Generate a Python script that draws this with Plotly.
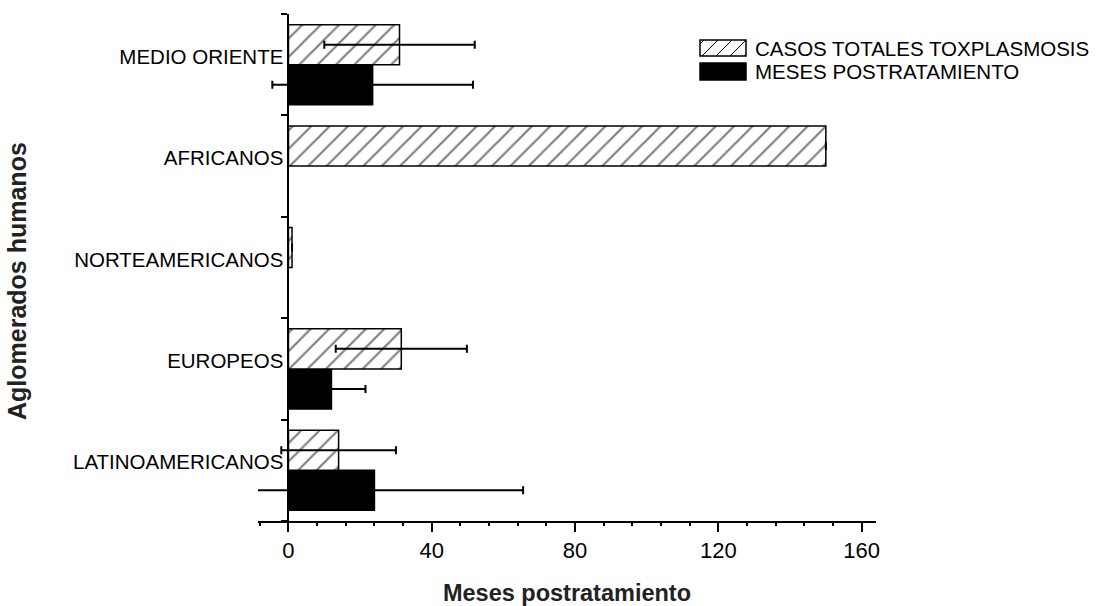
import plotly.graph_objects as go

# ---- data ----
categories = ["MEDIO ORIENTE", "AFRICANOS", "NORTEAMERICANOS", "EUROPEOS", "LATINOAMERICANOS"]
casos_totales = [31, 150, 1, 31.5, 14]
casos_err = [21, 0, 0, 18.3, 16]
meses_post = [23.5, None, None, 12, 24]
meses_err = [28, 0, 0, 9.5, 41.5]
x_ticks = [0, 40, 80, 120, 160]
legend_names = ["CASOS TOTALES TOXPLASMOSIS", "MESES POSTRATAMIENTO"]

# ---- layout geometry ----
W, H = 1109, 606
ML, MR, MT, MB = 258, 233, 14, 85
X_RANGE = [-8.5, 164]
PW, PH = W - ML - MR, H - MT - MB
FONT = "Arial, Liberation Sans, sans-serif"

fig = go.Figure()

fig.add_trace(go.Bar(
    y=categories, x=meses_post, orientation="h", name=legend_names[1],
    marker=dict(color="black", line=dict(color="black", width=1.5)),
    error_x=dict(type="data", array=meses_err, visible=True,
                 color="black", thickness=2, width=4),
    showlegend=False,
))
fig.add_trace(go.Bar(
    y=categories, x=casos_totales, orientation="h", name=legend_names[0],
    marker=dict(color="white", line=dict(color="black", width=1.5),
                pattern=dict(shape="/", fgcolor="black", bgcolor="white",
                             size=13, solidity=0.17)),
    error_x=dict(type="data", array=casos_err, visible=True,
                 color="black", thickness=2, width=4),
    showlegend=False,
))

ypos = (0 - X_RANGE[0]) / (X_RANGE[1] - X_RANGE[0])

fig.update_layout(
    width=W, height=H,
    margin=dict(l=ML, r=MR, t=MT, b=MB, autoexpand=False),
    paper_bgcolor="white", plot_bgcolor="white",
    barmode="group", bargap=0.21, bargroupgap=0,
    font=dict(family=FONT, color="black"),
    xaxis=dict(
        range=X_RANGE, tickvals=x_ticks, ticktext=[str(v) for v in x_ticks],
        showgrid=False, zeroline=False,
        showline=True, linecolor="black", linewidth=2,
        ticks="outside", ticklen=9, tickwidth=2, tickcolor="black",
        tickfont=dict(size=22, family=FONT, color="black"),
        minor=dict(dtick=8, tick0=0, ticks="outside", ticklen=3,
                   tickwidth=1.5, tickcolor="black", showgrid=False),
        title=dict(text="<b>Meses postratamiento</b>", standoff=27,
                   font=dict(size=23.5, family=FONT, color="#222")),
        automargin=False,
    ),
    yaxis=dict(
        type="category", categoryorder="array", categoryarray=categories[::-1],
        range=[-0.5, len(categories) - 0.5],
        anchor="free", position=ypos,
        showgrid=False, zeroline=False,
        showline=True, linecolor="black", linewidth=2,
        ticks="outside", tickson="boundaries", ticklen=6, tickwidth=2,
        tickcolor="black", ticklabelshift=-8,
        tickfont=dict(size=20.5, family=FONT, color="black"),
        automargin=False,
    ),
)

# ---- pixel -> paper helpers ----
def px_x(p):
    return (p - ML) / PW

def px_y(p):
    return (H - MB - p) / PH

# y axis title (placed like the reference)
fig.add_annotation(xref="paper", yref="paper", x=px_x(17), y=px_y(281),
                   xanchor="center", yanchor="middle", showarrow=False,
                   textangle=-90, text="<b>Aglomerados humanos</b>",
                   font=dict(size=25, family=FONT, color="#222"))

# ---- custom legend (wide swatches like the reference) ----
sw_x0, sw_x1 = 700, 746
rows = [(40, 56), (63, 80)]

y0, y1 = rows[0]
fig.add_shape(type="rect", xref="paper", yref="paper",
              x0=px_x(sw_x0), x1=px_x(sw_x1), y0=px_y(y1), y1=px_y(y0),
              line=dict(color="black", width=1.5), fillcolor="white")
h = y1 - y0
step = 14
start = sw_x0 - h + 4
while start < sw_x1:
    ax, ay, bx, by = start, y1, start + h, y0
    if ax < sw_x0:
        ay = ay - (sw_x0 - ax)
        ax = sw_x0
    if bx > sw_x1:
        by = by + (bx - sw_x1)
        bx = sw_x1
    if bx > ax:
        fig.add_shape(type="line", xref="paper", yref="paper",
                      x0=px_x(ax), y0=px_y(ay), x1=px_x(bx), y1=px_y(by),
                      line=dict(color="black", width=1))
    start += step

y0, y1 = rows[1]
fig.add_shape(type="rect", xref="paper", yref="paper",
              x0=px_x(sw_x0), x1=px_x(sw_x1), y0=px_y(y1), y1=px_y(y0),
              line=dict(color="black", width=1.5), fillcolor="black")

for (y0, y1), name in zip(rows, legend_names):
    fig.add_annotation(xref="paper", yref="paper",
                       x=px_x(sw_x1 + 7), y=px_y((y0 + y1) / 2),
                       xanchor="left", yanchor="middle", showarrow=False,
                       text=name, font=dict(size=20.5, family=FONT, color="black"))

fig.write_html(
    "out.html",
    config={"displayModeBar": False},
    post_script="document.body.style.margin='0';document.body.style.padding='0';",
)
